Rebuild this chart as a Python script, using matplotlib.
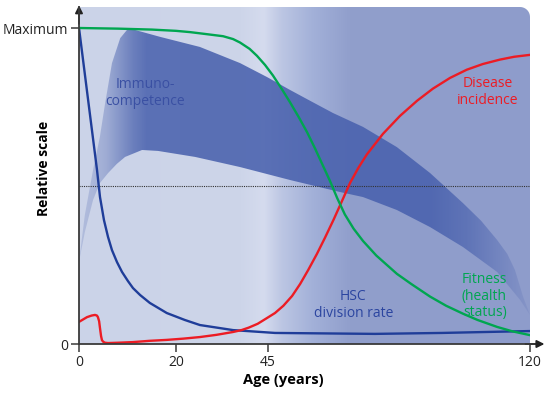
import numpy as np
from matplotlib import pyplot as plt
from matplotlib.patches import Polygon, PathPatch
from matplotlib.path import Path
from matplotlib.colors import to_rgb

plt.rcParams['font.family'] = ['Open Sans', 'DejaVu Sans']

# piecewise age axis (ticks are not evenly spaced in the original)
tick_ages = [0, 20, 45, 120]
tick_pos = [0, 97, 189, 451]

# fitness (health status)
fit_age = [0, 8, 15, 20, 23.8, 28, 32.8, 35.5, 37.4, 40, 42, 44.2, 46.4, 49, 51.3, 53.8, 56.2, 58.5,
           60.7, 62.7, 64.8, 67, 69.5, 72.2, 76, 81.9, 86, 91.4, 96, 100.8, 105, 110.6, 115, 120]
fit_val = [1.0, 0.998, 0.995, 0.991, 0.987, 0.981, 0.974, 0.965, 0.954, 0.934, 0.912, 0.883, 0.850,
           0.806, 0.765, 0.718, 0.670, 0.618, 0.565, 0.517, 0.462, 0.410, 0.365, 0.326, 0.280, 0.222,
           0.190, 0.150, 0.121, 0.096, 0.076, 0.054, 0.040, 0.028]

# disease incidence
dis_age = [0, 1.65, 2.6, 3.3, 3.7, 3.9, 4.15, 4.33, 4.55, 4.74, 5.0, 5.36, 6, 8, 11.1, 14.5, 18.1, 22,
           26.5, 31, 35.5, 37.8, 39.8, 42.2, 44.7, 47.0, 49.4, 51.9, 54.2, 56.5, 59, 61.3, 63.8, 66.2,
           68.5, 70.9, 73.3, 77.9, 82.8, 87.7, 92.2, 97.1, 101.9, 106.5, 111.4, 115.5, 120]
dis_val = [0.070, 0.085, 0.090, 0.092, 0.090, 0.085, 0.072, 0.050, 0.025, 0.012, 0.007, 0.004, 0.003,
           0.004, 0.006, 0.010, 0.013, 0.017, 0.022, 0.029, 0.038, 0.044, 0.052, 0.064, 0.082, 0.098,
           0.121, 0.152, 0.190, 0.234, 0.285, 0.336, 0.394, 0.453, 0.510, 0.558, 0.600, 0.665, 0.722,
           0.770, 0.808, 0.842, 0.868, 0.886, 0.900, 0.909, 0.915]

# HSC division rate
hsc_age = [0, 2.27, 3.71, 4.33, 5.15, 5.98, 6.80, 7.84, 8.87, 10.1, 11.13, 12.6, 14.6, 18.1, 22.4,
           26.5, 35.5, 47, 75.6, 94.8, 120]
hsc_val = [1.0, 0.725, 0.551, 0.465, 0.392, 0.339, 0.297, 0.259, 0.228, 0.199, 0.177, 0.155, 0.130,
           0.098, 0.076, 0.060, 0.044, 0.035, 0.032, 0.035, 0.041]

# immunocompetence band (upper / lower edges)
imm_up_age = [0, 1.2, 2.9, 4.3, 5.4, 6.8, 8.5, 9.9, 11.5, 16.7, 26.5, 37.4, 44.7, 51.3, 57, 63.6,
              72.2, 81.9, 91.4, 100.8, 106, 110.6, 113.5, 115.7, 118, 120]
imm_up_val = [0.26, 0.408, 0.551, 0.655, 0.763, 0.889, 0.968, 0.994, 0.994, 0.972, 0.940, 0.889,
              0.845, 0.804, 0.770, 0.731, 0.687, 0.623, 0.541, 0.446, 0.390, 0.329, 0.285, 0.234,
              0.150, 0.092]
imm_lo_age = [0, 1.2, 2.9, 4.3, 6.0, 7.8, 9.5, 13, 16.3, 25.2, 37.4, 51.3, 65.6, 72.2, 81.9, 91.4,
              100.8, 110.6, 117.2, 120]
imm_lo_val = [0.26, 0.354, 0.456, 0.509, 0.541, 0.570, 0.592, 0.614, 0.611, 0.592, 0.560, 0.519,
              0.481, 0.465, 0.424, 0.370, 0.307, 0.228, 0.139, 0.092]


def fwd(a):
    return np.interp(a, tick_ages, tick_pos)


def inv(p):
    return np.interp(p, tick_pos, tick_ages)


fig = plt.figure(figsize=(5.5, 3.98), dpi=100)
ax = fig.add_axes([79 / 550, 54 / 398, 451 / 550, 337 / 398])
ax.set_xscale('function', functions=(fwd, inv))
ax.set_xlim(0, 120)
ax.set_ylim(0, 337 / 316)

# background panel with rounded top-right corner
W, H = 451.0, 337.0
r = 10.0
th = np.linspace(0, np.pi / 2, 12)
verts = [(0, 0), (1, 0)]
verts += [((W - r + r * np.cos(t)) / W, (H - r + r * np.sin(t)) / H) for t in th]
verts += [(0, 1), (0, 0)]
panel = PathPatch(Path(verts), transform=ax.transAxes, facecolor='none', edgecolor='none')
ax.add_patch(panel)

stops = [0.0, 0.36, 0.41, 0.45, 0.52, 0.60, 1.0]
cols = ['#cbd3e8', '#cdd5e9', '#d5dbee', '#bcc6e3', '#a2b0d8', '#919fcc', '#8e9ccb']
xs = np.linspace(0, 1, 451)
rgb = np.array([to_rgb(c) for c in cols])
bg = np.stack([np.interp(xs, stops, rgb[:, k]) for k in range(3)], axis=-1)[None, :, :]
im = ax.imshow(bg, extent=(0, 1, 0, 1), transform=ax.transAxes, aspect='auto', zorder=0)
im.set_clip_path(panel)

# immunocompetence band, faded at both ends
band_xy = list(zip(imm_up_age, imm_up_val)) + list(zip(imm_lo_age[::-1], imm_lo_val[::-1]))
band = Polygon(band_xy, closed=True, facecolor='none', edgecolor='none')
ax.add_patch(band)
a_stops = [0.0, 0.03, 0.06, 0.09, 0.12, 0.15, 0.78, 0.86, 0.93, 1.0]
a_vals = [0.20, 0.25, 0.35, 0.55, 0.75, 0.88, 0.90, 0.70, 0.40, 0.12]
bc = to_rgb('#4a62ae')
alpha = np.interp(xs, a_stops, a_vals)
band_img = np.zeros((1, len(xs), 4))
band_img[..., 0], band_img[..., 1], band_img[..., 2] = bc
band_img[0, :, 3] = alpha
bi = ax.imshow(band_img, extent=(0, 1, 0, 1), transform=ax.transAxes, aspect='auto', zorder=1)
bi.set_clip_path(band)

ax.axhline(0.5, color='#333333', lw=0.8, ls=(0, (1, 1)), zorder=2)

ax.plot(hsc_age, hsc_val, color='#1f3d99', lw=1.7, zorder=3, solid_joinstyle='round')
ax.plot(dis_age, dis_val, color='#ec1c24', lw=1.7, zorder=3, solid_joinstyle='round')
ax.plot(fit_age, fit_val, color='#00a650', lw=1.7, zorder=4, solid_joinstyle='round')

font = dict(fontsize=10)
ax.text(0.146, 0.745, 'Immuno-\ncompetence', transform=ax.transAxes, ha='center', va='center',
        color='#3a50a3', linespacing=1.15, **font)
ax.text(0.907, 0.748, 'Disease\nincidence', transform=ax.transAxes, ha='center', va='center',
        color='#ec1c24', linespacing=1.15, **font)
ax.text(0.608, 0.116, 'HSC\ndivision rate', transform=ax.transAxes, ha='center', va='center',
        color='#2b45a0', linespacing=1.15, **font)
ax.text(0.949, 0.142, 'Fitness\n(health\nstatus)', transform=ax.transAxes, ha='right', va='center',
        multialignment='right', color='#00a650', linespacing=1.15, **font)

# axes
for s in ['top', 'right']:
    ax.spines[s].set_visible(False)
for s in ['left', 'bottom']:
    ax.spines[s].set_color('#3a3a3a')
    ax.spines[s].set_linewidth(1.3)
    ax.spines[s].set_zorder(5)
ax.annotate('', xy=(0, 1.005), xytext=(0, 0.95), xycoords='axes fraction',
            arrowprops=dict(arrowstyle='-|>', color='#222222', lw=1.3, mutation_scale=11,
                            shrinkA=0, shrinkB=0), annotation_clip=False)
ax.annotate('', xy=(1.032, 0), xytext=(0.99, 0), xycoords='axes fraction',
            arrowprops=dict(arrowstyle='-|>', color='#222222', lw=1.3, mutation_scale=11,
                            shrinkA=0, shrinkB=0), annotation_clip=False)

ax.set_xticks(tick_ages)
ax.set_xticklabels([str(a) for a in tick_ages])
ax.set_yticks([0, 1])
ax.set_yticklabels(['0', 'Maximum'])
ax.tick_params(axis='both', direction='out', length=6, width=1.1, color='#3a3a3a',
               labelsize=10, labelcolor='#222222', pad=2)

ax.set_xlabel('Age (years)', fontsize=10.5, fontweight='bold')
ax.xaxis.set_label_coords(0.452, -0.085)
ax.set_ylabel('Relative scale', fontsize=10, fontweight='bold')
ax.yaxis.set_label_coords(-0.062, 0.52)

fig.savefig('out.png', dpi=100)
